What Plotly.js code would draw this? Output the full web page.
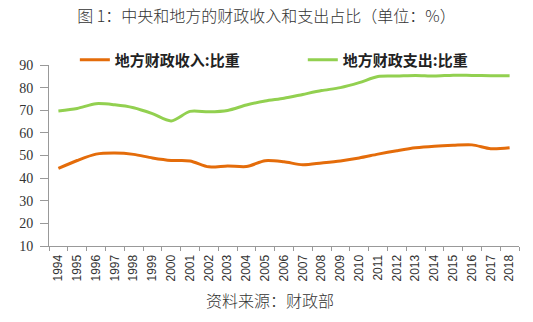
<!DOCTYPE html>
<html><head><meta charset="utf-8">
<script src="https://cdn.plot.ly/plotly-3.0.1.min.js"></script>
<style>html,body{margin:0;padding:0;background:#fff;}#chart{width:533px;height:322px;}</style>
</head><body><div id="chart"></div>
<script>
const years = ['1994','1995','1996','1997','1998','1999','2000','2001','2002','2003','2004','2005','2006','2007','2008','2009','2010','2011','2012','2013','2014','2015','2016','2017','2018'];
const localRevenueShare = [44.3,47.8,50.6,51.1,50.5,48.9,47.8,47.6,45.0,45.4,45.1,47.7,47.2,45.9,46.7,47.6,48.9,50.6,52.1,53.4,54.1,54.5,54.7,53.0,53.4];
const localExpenditureShare = [69.7,70.8,72.9,72.4,71.1,68.5,65.3,69.5,69.3,69.9,72.3,74.1,75.3,77.0,78.7,80.0,82.2,84.9,85.1,85.4,85.1,85.5,85.4,85.3,85.2];
const seriesNames = ['地方财政收入:比重','地方财政支出:比重'];
const titleText = '图 1：中央和地方的财政收入和支出占比（单位：%）';
const sourceText = '资料来源：财政部';

const serif = 'Liberation Serif';
const legendFont = {family: 'Noto Sans CJK SC', size: 15, color: '#222', weight: 'bold'};
const traces = [
  {x: years, y: localRevenueShare, name: seriesNames[0], type: 'scatter', mode: 'lines', legend: 'legend',
   line: {color: '#E46C0A', width: 3, shape: 'spline', smoothing: 0.8}},
  {x: years, y: localExpenditureShare, name: seriesNames[1], type: 'scatter', mode: 'lines', legend: 'legend2',
   line: {color: '#92D050', width: 3, shape: 'spline', smoothing: 0.8}}
];
const layout = {
  width: 533, height: 322,
  margin: {l: 49, r: 14, t: 65, b: 76},
  paper_bgcolor: '#fff', plot_bgcolor: '#fff',
  title: {text: titleText, x: 0.5, xanchor: 'center', y: 0.95, yanchor: 'middle',
          font: {family: 'Noto Sans CJK SC', size: 16, color: '#333', weight: 300}},
  showlegend: true,
  legend: {orientation: 'h', x: 0.055, xanchor: 'left', y: 1.028, yanchor: 'middle',
           font: legendFont, bgcolor: 'rgba(0,0,0,0)', itemwidth: 30},
  legend2: {orientation: 'h', x: 0.54, xanchor: 'left', y: 1.028, yanchor: 'middle',
           font: legendFont, bgcolor: 'rgba(0,0,0,0)', itemwidth: 30},
  xaxis: {type: 'category', showgrid: false, zeroline: false, showline: true, linecolor: '#999', linewidth: 1,
          ticks: 'outside', ticklen: 4, tickcolor: '#999', tickson: 'boundaries', ticklabelstandoff: 3,
          tickangle: -90, tickfont: {family: 'Liberation Sans', size: 12, color: '#333'},
          range: [-0.5, 24.5]},
  yaxis: {range: [10, 90], dtick: 10, showgrid: false, zeroline: false, showline: true, linecolor: '#999', linewidth: 1,
          ticks: 'outside', ticklen: 8, tickcolor: '#999', ticklabelstandoff: 4,
          tickfont: {family: serif, size: 14, color: '#333'}},
  annotations: [{text: sourceText, xref: 'paper', yref: 'paper', x: 0.47, y: -0.30, xanchor: 'center', yanchor: 'middle',
                 showarrow: false, font: {family: 'Noto Sans CJK SC', size: 16, color: '#333', weight: 300}}]
};
Plotly.newPlot('chart', traces, layout, {displayModeBar: false, staticPlot: true});
</script></body></html>
